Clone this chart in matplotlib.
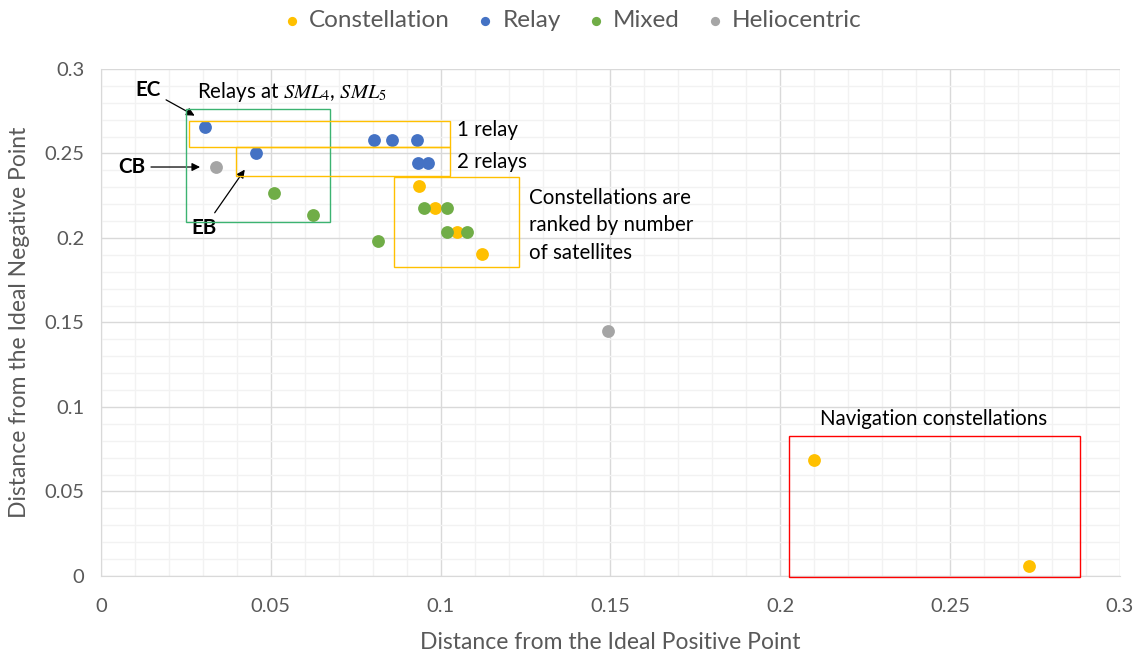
import numpy as np
import matplotlib
matplotlib.use("Agg")
import matplotlib.pyplot as plt
from matplotlib.patches import Rectangle
from matplotlib.ticker import MultipleLocator

plt.rcParams['font.family'] = ['Lato', 'DejaVu Sans']
plt.rcParams['mathtext.fontset'] = 'stix'

# data
const_x = [0.0935, 0.0982, 0.1047, 0.1122, 0.2100, 0.2732]
const_y = [0.2310, 0.2180, 0.2036, 0.1905, 0.0686, 0.0059]
relay_x = [0.0305, 0.0456, 0.0803, 0.0857, 0.0931, 0.0933, 0.0962]
relay_y = [0.2658, 0.2505, 0.2580, 0.2580, 0.2580, 0.2442, 0.2442]
mixed_x = [0.0508, 0.0623, 0.0816, 0.0951, 0.1018, 0.1018, 0.1079]
mixed_y = [0.2268, 0.2136, 0.1984, 0.2180, 0.2180, 0.2036, 0.2036]
helio_x = [0.0339, 0.1493]
helio_y = [0.2422, 0.1450]

series = [
    ("Constellation", const_x, const_y, "#FFC000"),
    ("Relay", relay_x, relay_y, "#4472C4"),
    ("Mixed", mixed_x, mixed_y, "#70AD47"),
    ("Heliocentric", helio_x, helio_y, "#A5A5A5"),
]

# annotation boxes: (x0, y0, x1, y1, colour)
boxes = [
    (0.0250, 0.2093, 0.0674, 0.2762, "#3CB371"),
    (0.0258, 0.2536, 0.1027, 0.2694, "#FFC000"),
    (0.0397, 0.2367, 0.1027, 0.2536, "#FFC000"),
    (0.0862, 0.1827, 0.1231, 0.2359, "#FFC000"),
    (0.2025, -0.0004, 0.2883, 0.0828, "#FF0000"),
]

grey = "#595959"
fs = 14.8

fig = plt.figure(figsize=(11.42, 6.54), dpi=100)
ax = fig.add_axes([0.0884, 0.1193, 0.8923, 0.7752])

for name, xs, ys, col in series:
    ax.scatter(xs, ys, s=85, color=col, label=name, zorder=3, linewidths=0)

for x0, y0, x1, y1, col in boxes:
    ax.add_patch(Rectangle((x0, y0), x1 - x0, y1 - y0, fill=False,
                           edgecolor=col, lw=1.0, zorder=4, clip_on=False))

ax.set_xlim(0, 0.3)
ax.set_ylim(0, 0.3)
ax.xaxis.set_major_locator(MultipleLocator(0.05))
ax.yaxis.set_major_locator(MultipleLocator(0.05))
ax.xaxis.set_minor_locator(MultipleLocator(0.01))
ax.yaxis.set_minor_locator(MultipleLocator(0.01))
ax.grid(which='major', color="#D9D9D9", lw=1.0, zorder=0)
ax.grid(which='minor', color="#F2F2F2", lw=1.0, zorder=0)
ax.set_axisbelow(True)
for s in ['top', 'right']:
    ax.spines[s].set_visible(False)
for s in ['left', 'bottom']:
    ax.spines[s].set_color("#D9D9D9")
ax.tick_params(which='both', length=0, labelsize=14.5, colors=grey)
ax.tick_params(axis='x', pad=16)
ax.tick_params(axis='y', pad=12)

def fmt(v, _):
    s = ("%.2f" % v).rstrip('0').rstrip('.')
    return s
ax.xaxis.set_major_formatter(fmt)
ax.yaxis.set_major_formatter(fmt)

ax.set_xlabel("Distance from the Ideal Positive Point", fontsize=16.5, color=grey, labelpad=12)
ax.set_ylabel("Distance from the Ideal Negative Point", fontsize=16.5, color=grey, labelpad=10)

# text annotations
ax.text(0.0283, 0.2864, r"Relays at $SML_4$, $SML_5$", fontsize=fs, va='center', ha='left')
ax.text(0.1047, 0.2639, "1 relay", fontsize=fs, va='center', ha='left')
ax.text(0.1047, 0.2450, "2 relays", fontsize=fs, va='center', ha='left')
ax.text(0.1260, 0.2075, "Constellations are\nranked by number\nof satellites",
        fontsize=fs, va='center', ha='left', linespacing=1.45)
ax.text(0.2451, 0.0929, "Navigation constellations", fontsize=fs, va='center', ha='center')

arrow = dict(arrowstyle='-|>', color='black', lw=0.9, mutation_scale=12)
ax.annotate("EC", xy=(0.0283, 0.2716), xytext=(0.0139, 0.2876), fontsize=fs,
            fontweight='bold', ha='center', va='center', arrowprops=arrow)
ax.annotate("CB", xy=(0.0300, 0.2420), xytext=(0.0091, 0.2420), fontsize=fs,
            fontweight='bold', ha='center', va='center', arrowprops=arrow)
ax.annotate("EB", xy=(0.0428, 0.2418), xytext=(0.0304, 0.2060), fontsize=fs,
            fontweight='bold', ha='center', va='center', arrowprops=arrow)

fig.legend(loc='upper center', bbox_to_anchor=(0.5, 1.018), ncol=4, frameon=False,
           fontsize=17.5, labelcolor=grey, markerscale=0.72, handlelength=1.0,
           handletextpad=0.2, columnspacing=0.95)

fig.savefig("out.png", dpi=100)
